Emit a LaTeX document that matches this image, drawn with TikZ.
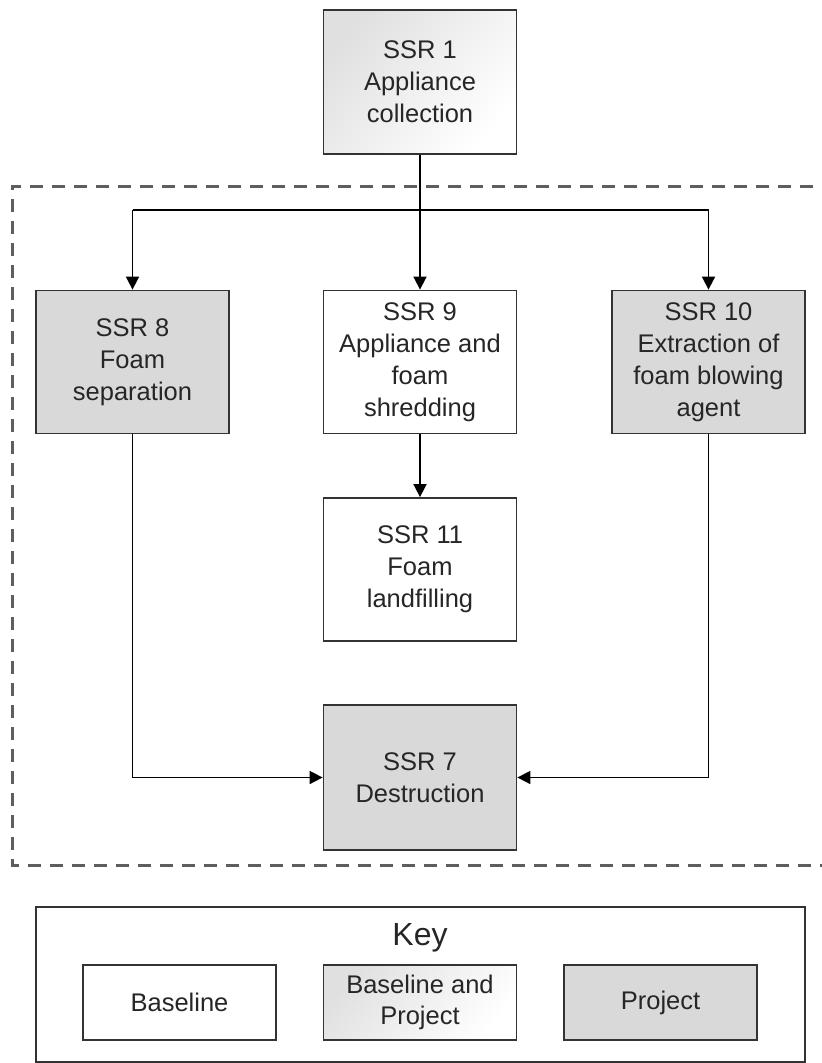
\documentclass[tikz,border=0pt]{standalone}
\usepackage{fontspec}
\setmainfont{Liberation Sans}
\usetikzlibrary{arrows.meta}
\definecolor{boxgrey}{HTML}{D9D9D9}
\definecolor{edgegrey}{HTML}{333333}
\definecolor{dashgrey}{HTML}{5E5E5E}
\tikzset{
  ssrbox/.style={draw=edgegrey, line width=1.8pt, minimum width=193pt, minimum height=143pt,
    align=center, font=\fontsize{25.5}{32}\selectfont, text=black!85, inner sep=0pt},
  projbox/.style={ssrbox, fill=boxgrey},
  basebox/.style={ssrbox, fill=white},
  fadefill/.style={top color=gray!24, bottom color=white, shading angle=50},
  bothbox/.style={ssrbox, fadefill},
  keybox/.style={draw=edgegrey, line width=1.8pt, minimum width=193pt, minimum height=75pt,
    align=center, font=\fontsize{25.5}{31}\selectfont, text=black!85, inner sep=0pt},
  flow/.style={line width=1.7pt, -{Triangle[length=13pt,width=13pt]}},
  joint/.style={line width=1.7pt}
}
\begin{document}
\begin{tikzpicture}[x=1pt, y=-1pt]
  \useasboundingbox (0,0) rectangle (822,1063);
  \clip (0,0) rectangle (822,1063);

  % project boundary (right side runs past the page edge)
  \draw[dashgrey, line width=3pt, dash pattern=on 13pt off 9pt]
    (835,186) -- (12,186) -- (12,865) -- (835,865);

  % stages
  \node[bothbox, minimum height=144pt] (s1) at (420,82) {SSR 1\\Appliance\\collection};
  \node[projbox] (s8)  at (132.5,362) {SSR 8\\Foam\\separation};
  \node[basebox] (s9)  at (420,362) {SSR 9\\Appliance and\\foam\\shredding};
  \node[projbox] (s10) at (708.5,362) {SSR 10\\Extraction of\\foam blowing\\agent};
  \node[basebox] (s11) at (420,569.5) {SSR 11\\Foam\\landfilling};
  \node[projbox, minimum height=145pt] (s7) at (420,777.5) {SSR 7\\Destruction};

  % connectors
  \coordinate (split) at (s1.south |- 0,210);
  \draw[flow] (s1.south) -- (s9.north);
  \draw[joint] (s8.north |- split) -- (s10.north |- split);
  \draw[flow] (s8.north |- split) -- (s8.north);
  \draw[flow] (s10.north |- split) -- (s10.north);
  \draw[flow] (s9.south) -- (s11.north);
  \draw[flow] (s8.south) |- (s7.west);
  \draw[flow] (s10.south) |- (s7.east);

  % key
  \node[draw=edgegrey, line width=1.8pt, minimum width=769pt, minimum height=155pt, inner sep=0pt]
    (key) at (420.5,984.5) {};
  \node[font=\fontsize{32}{36}\selectfont, text=black!85] (keytitle) at (420,938) {Key};
  \node[keybox, fill=white] (kbase) at (179.5,1002.5) {Baseline};
  \node[keybox, fadefill] (kboth) at (420,1002.5) {Baseline and\\Project};
  \node[keybox, fill=boxgrey] (kproj) at (660.5,1002.5) {Project};
\end{tikzpicture}
\end{document}
